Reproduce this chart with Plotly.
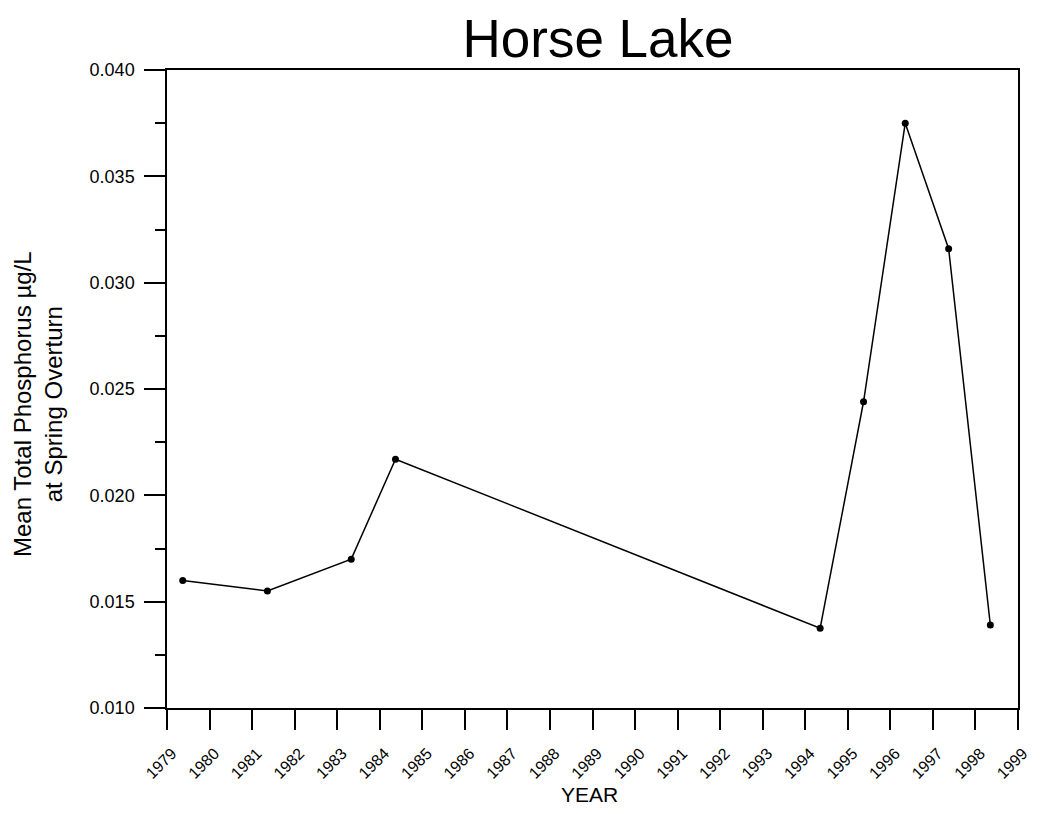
import plotly.graph_objects as go

# Data (year as decimal, spring sampling)
years = [1979.37, 1981.36, 1983.33, 1984.37, 1994.35, 1995.37, 1996.35, 1997.37, 1998.35]
phosphorus = [0.0160, 0.0155, 0.0170, 0.0217, 0.01375, 0.0244, 0.0375, 0.0316, 0.0139]

x_ticks = list(range(1979, 2000))
x_ticklabels = [str(y) for y in x_ticks]
y_ticks = [0.010, 0.015, 0.020, 0.025, 0.030, 0.035, 0.040]

title_text = "Horse Lake"
y_title = "Mean Total Phosphorus µg/L<br>at Spring Overturn"
x_title = "YEAR"

FONT = "Liberation Sans, Arial, sans-serif"

# page has an 8px body margin, so the figure is sized to fit inside the window
W, H = 1024, 798
L, T, PW, PH = 159, 62, 851, 638

fig = go.Figure()
fig.add_trace(go.Scatter(
    x=years, y=phosphorus, mode="lines+markers",
    line=dict(color="black", width=1.5),
    marker=dict(color="black", size=7, symbol="circle"),
    showlegend=False, hoverinfo="x+y",
))

fig.update_layout(
    width=W, height=H,
    paper_bgcolor="white", plot_bgcolor="white",
    margin=dict(l=L, r=W - L - PW, t=T, b=H - T - PH, autoexpand=False),
    title=dict(text=title_text, x=590 / W, xref="container", xanchor="center",
               y=1 - 30 / H, yref="container", yanchor="middle",
               font=dict(family=FONT, size=53, color="black")),
    font=dict(family=FONT, color="black"),
)

fig.update_xaxes(
    range=[1979, 1999], tickmode="array", tickvals=x_ticks, ticktext=x_ticklabels,
    tickangle=-45, ticks="outside", ticklen=20, tickwidth=1.5, tickcolor="black",
    ticklabelstandoff=8, ticklabelshift=5, ticklabeloverflow="allow",
    tickfont=dict(family=FONT, size=16, color="black"), automargin=False,
    showline=True, linecolor="black", linewidth=1.5, mirror=True,
    showgrid=False, zeroline=False,
)
fig.update_yaxes(
    range=[0.010, 0.040], tickmode="array", tickvals=y_ticks, tickformat=".3f",
    ticks="outside", ticklen=21, tickwidth=1.5, tickcolor="black",
    ticklabelstandoff=6, automargin=False,
    tickfont=dict(family=FONT, size=18, color="black"),
    minor=dict(dtick=0.0025, ticks="outside", ticklen=10, tickwidth=1.5, tickcolor="black", showgrid=False),
    showline=True, linecolor="black", linewidth=1.5, mirror=True,
    showgrid=False, zeroline=False,
)

fig.add_annotation(
    text=y_title, xref="paper", yref="paper", x=(30 - L) / PW, y=(700 - 396) / PH,
    xanchor="center", yanchor="middle", textangle=-90, showarrow=False,
    font=dict(family=FONT, size=24, color="black"), align="center",
)
fig.add_annotation(
    text=x_title, xref="paper", yref="paper", x=(581 - L) / PW, y=-(787 - 700) / PH,
    xanchor="center", yanchor="middle", showarrow=False,
    font=dict(family=FONT, size=21, color="black"),
)

fig.write_html("out.html")
